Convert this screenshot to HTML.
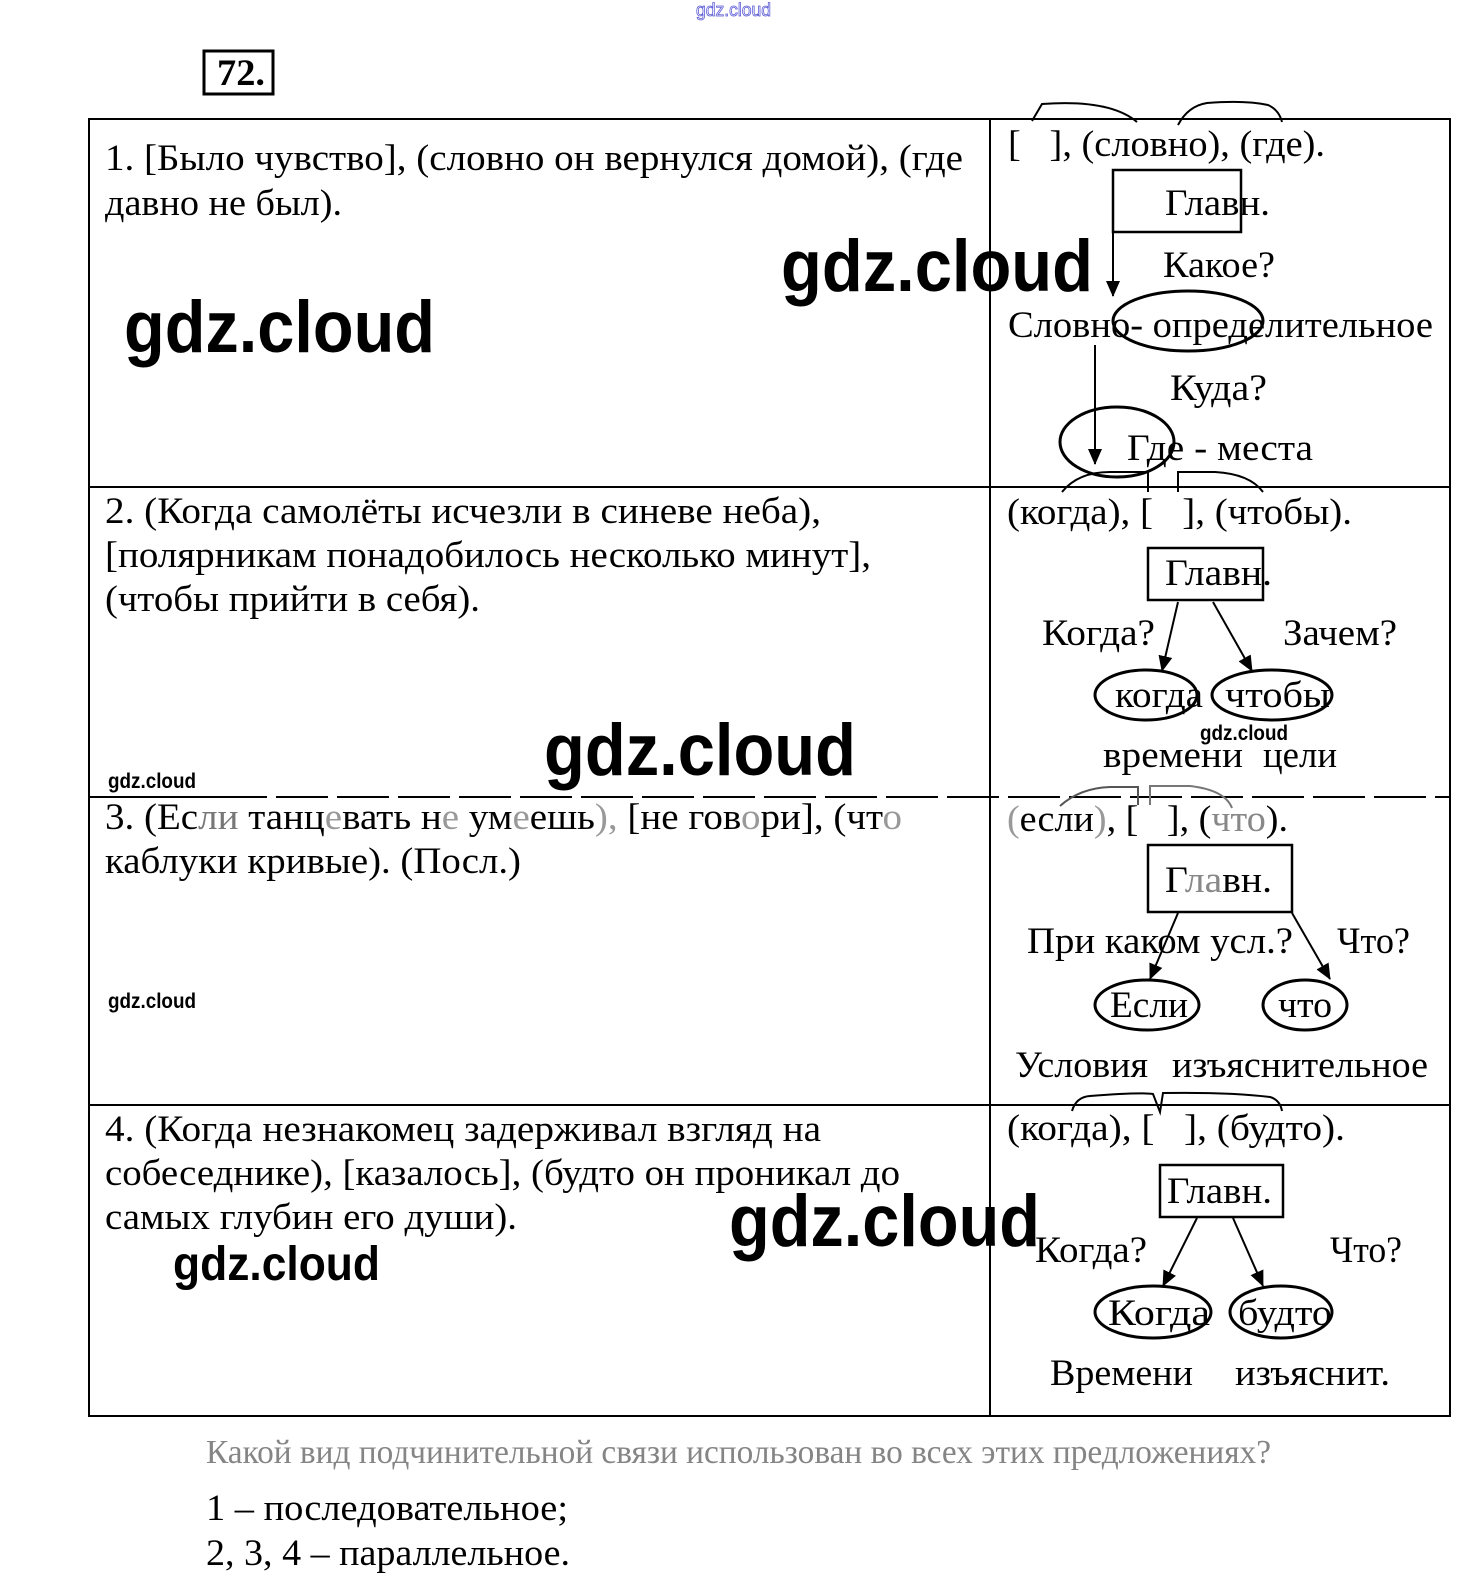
<!DOCTYPE html>
<html><head><meta charset="utf-8"><style>
html,body{margin:0;padding:0;background:#fff;}
svg{display:block;}
.t{font-family:"Liberation Serif","DejaVu Serif",serif;font-size:37px;fill:#000;}
.g{font-family:"Liberation Serif","DejaVu Serif",serif;font-size:34px;fill:#858585;}
.w{font-family:"Liberation Sans","DejaVu Sans",sans-serif;font-weight:bold;fill:#000;}
.ln{stroke:#000;stroke-width:2;fill:none;}
.el{stroke:#000;stroke-width:3;fill:none;}
</style></head><body>
<svg width="1467" height="1586" viewBox="0 0 1467 1586" xmlns="http://www.w3.org/2000/svg">
<defs>
<marker id="ah" viewBox="0 0 16 14" refX="15" refY="7" markerWidth="16" markerHeight="14" markerUnits="userSpaceOnUse" orient="auto"><path d="M0,0 L16,7 L0,14 z" fill="#000"/></marker>
</defs>
<rect width="1467" height="1586" fill="#fff"/>

<!-- top small watermark -->
<text x="696" y="16" font-family="Liberation Sans, sans-serif" font-size="18" fill="#fff" stroke="#5b5bd6" stroke-width="0.8" textLength="75" lengthAdjust="spacingAndGlyphs">gdz.cloud</text>

<!-- 72. -->
<rect x="204" y="51" width="69" height="43" fill="none" stroke="#000" stroke-width="3"/>
<text x="217" y="85" font-family="Liberation Serif, serif" font-weight="bold" font-size="37" textLength="48" lengthAdjust="spacingAndGlyphs">72.</text>

<!-- table -->
<rect x="89" y="119" width="1361" height="1297" fill="none" stroke="#000" stroke-width="2"/>
<line class="ln" x1="990" y1="119" x2="990" y2="1416"/>
<line class="ln" x1="89" y1="487" x2="1450" y2="487"/>
<line class="ln" x1="89" y1="797" x2="215" y2="797"/>
<line x1="215" y1="797" x2="1450" y2="797" stroke="#000" stroke-width="2" stroke-dasharray="52 9"/>
<line class="ln" x1="89" y1="1105" x2="1450" y2="1105"/>

<!-- left column text -->
<text class="t" x="105" y="170" textLength="858" lengthAdjust="spacingAndGlyphs">1. [Было чувство], (словно он вернулся домой), (где</text>
<text class="t" x="105" y="215" textLength="237" lengthAdjust="spacingAndGlyphs">давно не был).</text>

<text class="t" x="105" y="523" textLength="716" lengthAdjust="spacingAndGlyphs">2. (Когда самолёты исчезли в синеве неба),</text>
<text class="t" x="105" y="567" textLength="766" lengthAdjust="spacingAndGlyphs">[полярникам понадобилось несколько минут],</text>
<text class="t" x="105" y="611" textLength="375" lengthAdjust="spacingAndGlyphs">(чтобы прийти в себя).</text>

<text class="t" x="105" y="829" textLength="797" lengthAdjust="spacingAndGlyphs">3. (Ес<tspan fill="#777">ли</tspan> танц<tspan fill="#999">е</tspan>вать н<tspan fill="#999">е</tspan> ум<tspan fill="#999">е</tspan>ешь<tspan fill="#999">), </tspan>[не гов<tspan fill="#999">о</tspan>ри], (чт<tspan fill="#999">о</tspan></text>
<text class="t" x="105" y="873" textLength="416" lengthAdjust="spacingAndGlyphs">каблуки кривые). (Посл.)</text>

<text class="t" x="105" y="1141" textLength="716" lengthAdjust="spacingAndGlyphs">4. (Когда незнакомец задерживал взгляд на</text>
<text class="t" x="105" y="1185" textLength="795" lengthAdjust="spacingAndGlyphs">собеседнике), [казалось], (будто он проникал до</text>
<text class="t" x="105" y="1229" textLength="412" lengthAdjust="spacingAndGlyphs">самых глубин его души).</text>

<!-- ROW 1 right -->
<path class="ln" d="M1032,121 L1042,104 Q1110,99 1137,122"/>
<path class="ln" d="M1178,125 Q1188,106 1207,103 Q1245,100 1268,105 Q1279,110 1282,122"/>
<text class="t" x="1008" y="156" textLength="317" lengthAdjust="spacingAndGlyphs">[&#160;&#160;&#160;], (словно), (где).</text>
<rect x="1113" y="170" width="128" height="62" fill="none" stroke="#000" stroke-width="2.5"/>
<text class="t" x="1165" y="215" textLength="105" lengthAdjust="spacingAndGlyphs">Главн.</text>
<line class="ln" x1="1113" y1="232" x2="1113" y2="296" marker-end="url(#ah)"/>
<text class="t" x="1163" y="277" textLength="112" lengthAdjust="spacingAndGlyphs">Какое?</text>
<ellipse class="el" cx="1188" cy="321" rx="75" ry="30"/>
<text class="t" x="1008" y="337" textLength="425" lengthAdjust="spacingAndGlyphs">Словно- определительное</text>
<line class="ln" x1="1095" y1="345" x2="1095" y2="464" marker-end="url(#ah)"/>
<text class="t" x="1170" y="400" textLength="97" lengthAdjust="spacingAndGlyphs">Куда?</text>
<ellipse class="el" cx="1117" cy="442" rx="57" ry="35"/>
<text class="t" x="1127" y="460" textLength="186" lengthAdjust="spacingAndGlyphs">Где - места</text>

<!-- ROW 2 right -->
<path class="ln" d="M1062,492 Q1078,472 1110,472 L1148,472 L1148,492"/>
<path class="ln" d="M1178,492 L1178,472 L1215,472 Q1250,474 1263,492"/>
<text class="t" x="1007" y="524" textLength="345" lengthAdjust="spacingAndGlyphs">(когда), [&#160;&#160;&#160;], (чтобы).</text>
<rect x="1148" y="548" width="115" height="52" fill="none" stroke="#000" stroke-width="2.5"/>
<text class="t" x="1165" y="585" textLength="107" lengthAdjust="spacingAndGlyphs">Главн.</text>
<line class="ln" x1="1178" y1="602" x2="1162" y2="671" marker-end="url(#ah)"/>
<line class="ln" x1="1213" y1="602" x2="1252" y2="671" marker-end="url(#ah)"/>
<text class="t" x="1042" y="645" textLength="113" lengthAdjust="spacingAndGlyphs">Когда?</text>
<text class="t" x="1283" y="645" textLength="114" lengthAdjust="spacingAndGlyphs">Зачем?</text>
<ellipse class="el" cx="1146" cy="695" rx="51" ry="25"/>
<ellipse class="el" cx="1272" cy="695" rx="60" ry="25"/>
<text class="t" x="1115" y="707" textLength="88" lengthAdjust="spacingAndGlyphs">когда</text>
<text class="t" x="1225" y="707" textLength="105" lengthAdjust="spacingAndGlyphs">чтобы</text>
<text class="t" x="1103" y="767" textLength="140" lengthAdjust="spacingAndGlyphs" fill="#333">времени</text>
<text class="t" x="1263" y="767" textLength="74" lengthAdjust="spacingAndGlyphs" fill="#333">цели</text>

<!-- ROW 3 right -->
<path d="M1060,806 Q1080,788 1110,787 L1138,787 L1138,805" fill="none" stroke="#555" stroke-width="2"/>
<path d="M1150,805 L1150,786 L1190,786 Q1225,790 1232,808" fill="none" stroke="#777" stroke-width="2"/>
<text class="t" x="1007" y="831" textLength="281" lengthAdjust="spacingAndGlyphs"><tspan fill="#999">(</tspan>если<tspan fill="#999">)</tspan>, [&#160;&#160;&#160;], (<tspan fill="#888">что</tspan>).</text>
<rect x="1148" y="845" width="144" height="67" fill="none" stroke="#000" stroke-width="2.5"/>
<text class="t" x="1165" y="892" textLength="107" lengthAdjust="spacingAndGlyphs">Г<tspan fill="#888">ла</tspan>вн.</text>
<line class="ln" x1="1178" y1="913" x2="1150" y2="979" marker-end="url(#ah)"/>
<line class="ln" x1="1292" y1="913" x2="1330" y2="979" marker-end="url(#ah)"/>
<text class="t" x="1027" y="953" textLength="266" lengthAdjust="spacingAndGlyphs">При каком усл.?</text>
<text class="t" x="1337" y="953" textLength="73" lengthAdjust="spacingAndGlyphs">Что?</text>
<ellipse class="el" cx="1147" cy="1005" rx="52" ry="25"/>
<ellipse class="el" cx="1305" cy="1005" rx="42" ry="25"/>
<text class="t" x="1110" y="1017" textLength="78" lengthAdjust="spacingAndGlyphs">Если</text>
<text class="t" x="1278" y="1017" textLength="54" lengthAdjust="spacingAndGlyphs">что</text>
<text class="t" x="1015" y="1077" textLength="133" lengthAdjust="spacingAndGlyphs">Условия</text>
<text class="t" x="1172" y="1077" textLength="256" lengthAdjust="spacingAndGlyphs">изъяснительное</text>

<!-- ROW 4 right -->
<path class="ln" d="M1072,1111 Q1076,1097 1090,1096 Q1140,1092 1153,1094 L1160,1112 L1163,1093 Q1230,1092 1270,1097 Q1280,1100 1282,1111"/>
<text class="t" x="1007" y="1140" textLength="338" lengthAdjust="spacingAndGlyphs">(когда), [&#160;&#160;&#160;], (будто).</text>
<rect x="1160" y="1165" width="123" height="52" fill="none" stroke="#000" stroke-width="2.5"/>
<text class="t" x="1167" y="1203" textLength="105" lengthAdjust="spacingAndGlyphs">Главн.</text>
<line class="ln" x1="1197" y1="1218" x2="1163" y2="1286" marker-end="url(#ah)"/>
<line class="ln" x1="1233" y1="1218" x2="1263" y2="1286" marker-end="url(#ah)"/>
<text class="t" x="1035" y="1262" textLength="112" lengthAdjust="spacingAndGlyphs">Когда?</text>
<text class="t" x="1330" y="1262" textLength="72" lengthAdjust="spacingAndGlyphs">Что?</text>
<ellipse class="el" cx="1153" cy="1312" rx="58" ry="26"/>
<ellipse class="el" cx="1281" cy="1312" rx="51" ry="26"/>
<text class="t" x="1108" y="1325" textLength="102" lengthAdjust="spacingAndGlyphs">Когда</text>
<text class="t" x="1238" y="1325" textLength="94" lengthAdjust="spacingAndGlyphs">будто</text>
<text class="t" x="1050" y="1385" textLength="143" lengthAdjust="spacingAndGlyphs">Времени</text>
<text class="t" x="1235" y="1385" textLength="155" lengthAdjust="spacingAndGlyphs">изъяснит.</text>

<!-- bottom text -->
<text class="g" x="206" y="1463" textLength="1065" lengthAdjust="spacingAndGlyphs">Какой вид подчинительной связи использован во всех этих предложениях?</text>
<text class="t" x="206" y="1520" textLength="362" lengthAdjust="spacingAndGlyphs">1 – последовательное;</text>
<text class="t" x="206" y="1565" textLength="364" lengthAdjust="spacingAndGlyphs">2, 3, 4 – параллельное.</text>

<!-- watermarks -->
<text class="w" x="781" y="291" font-size="73" textLength="312" lengthAdjust="spacingAndGlyphs">gdz.cloud</text>
<text class="w" x="124" y="352" font-size="73" textLength="311" lengthAdjust="spacingAndGlyphs">gdz.cloud</text>
<text class="w" x="544" y="775" font-size="73" textLength="312" lengthAdjust="spacingAndGlyphs">gdz.cloud</text>
<text class="w" x="729" y="1246" font-size="73" textLength="311" lengthAdjust="spacingAndGlyphs">gdz.cloud</text>
<text class="w" x="173" y="1280" font-size="48" textLength="207" lengthAdjust="spacingAndGlyphs">gdz.cloud</text>
<text class="w" x="108" y="788" font-size="21" textLength="88" lengthAdjust="spacingAndGlyphs">gdz.cloud</text>
<text class="w" x="108" y="1008" font-size="21" textLength="88" lengthAdjust="spacingAndGlyphs">gdz.cloud</text>
<text class="w" x="1200" y="740" font-size="21" textLength="88" lengthAdjust="spacingAndGlyphs">gdz.cloud</text>
</svg>
</body></html>
